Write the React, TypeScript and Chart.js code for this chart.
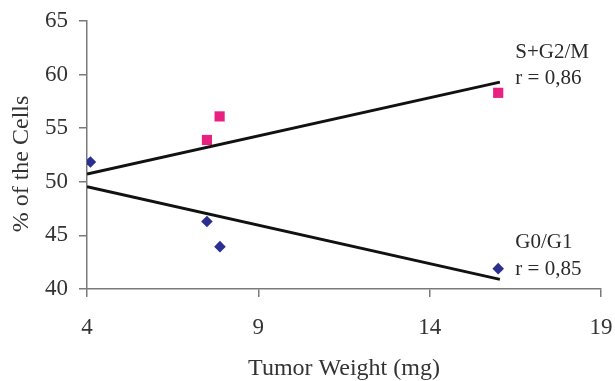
import React, { useEffect, useRef } from "react";
import { Chart, registerables } from "chart.js";

Chart.register(...registerables);

const g0g1Weights = [4.1, 7.5, 7.88, 16.0];
const g0g1Values = [51.85, 46.3, 43.95, 41.9];
const sg2mWeights = [7.5, 7.87, 16.0];
const sg2mValues = [53.9, 56.1, 58.3];
const trendX = [4.0, 16.05];
const sg2mTrend = [50.73, 59.3];
const g0g1Trend = [49.55, 40.9];
const xTicks = [4, 9, 14, 19];
const yTicks = [40, 45, 50, 55, 60, 65];
const xTitle = "Tumor Weight (mg)";
const yTitle = "% of the Cells";
const labels = [
  { text: "S+G2/M", x: 16.5, y: 62.1 },
  { text: "r = 0,86", x: 16.5, y: 59.65 },
  { text: "G0/G1", x: 16.5, y: 44.3 },
  { text: "r = 0,85", x: 16.5, y: 41.8 },
];

const FONT = "'Liberation Serif', 'Times New Roman', serif";
const TEXT = "#333333";
const AXIS = "#7a7a7a";

const annotationPlugin = {
  id: "textNotes",
  afterDatasetsDraw(chart: any) {
    const { ctx, scales, chartArea } = chart;
    ctx.save();
    ctx.font = `21px ${FONT}`;
    ctx.fillStyle = "#2a2a2a";
    ctx.textAlign = "left";
    ctx.textBaseline = "middle";
    labels.forEach((l) => {
      ctx.fillText(l.text, scales.x.getPixelForValue(l.x), scales.y.getPixelForValue(l.y));
    });
    // y axis title
    ctx.font = `24px ${FONT}`;
    ctx.fillStyle = TEXT;
    ctx.textAlign = "center";
    ctx.translate(22, (chartArea.top + chartArea.bottom) / 2 + 9);
    ctx.rotate(-Math.PI / 2);
    ctx.fillText(yTitle, 0, 0);
    ctx.restore();
  },
};

export default function App() {
  const ref = useRef<HTMLCanvasElement | null>(null);
  useEffect(() => {
    if (!ref.current) return;
    const chart = new Chart(ref.current, {
      type: "scatter",
      data: {
        datasets: [
          {
            label: "S+G2/M trend",
            type: "line",
            data: trendX.map((x, i) => ({ x, y: sg2mTrend[i] })),
            borderColor: "#111111",
            borderWidth: 3,
            pointRadius: 0,
            fill: false,
          } as any,
          {
            label: "G0/G1 trend",
            type: "line",
            data: trendX.map((x, i) => ({ x, y: g0g1Trend[i] })),
            borderColor: "#111111",
            borderWidth: 3,
            pointRadius: 0,
            fill: false,
          } as any,
          {
            label: "S+G2/M",
            data: sg2mWeights.map((x, i) => ({ x, y: sg2mValues[i] })),
            pointStyle: "rect",
            pointRadius: 7.2,
            backgroundColor: "#E8207F",
            borderColor: "#E8207F",
            borderWidth: 0,
          },
          {
            label: "G0/G1",
            data: g0g1Weights.map((x, i) => ({ x, y: g0g1Values[i] })),
            pointStyle: "rectRot",
            pointRadius: 5.8,
            backgroundColor: "#2B2F92",
            borderColor: "#2B2F92",
            borderWidth: 0,
          },
        ],
      },
      options: {
        animation: false,
        responsive: false,
        maintainAspectRatio: false,
        layout: { padding: { top: 21, right: 14, left: 0, bottom: 0 } },
        plugins: { legend: { display: false }, tooltip: { enabled: false } },
        scales: {
          x: {
            type: "linear",
            min: 4,
            max: 19,
            afterBuildTicks: (s: any) => {
              s.ticks = xTicks.map((v) => ({ value: v }));
            },
            afterFit: (s: any) => {
              s.height = 92;
              s.paddingLeft = 0;
              s.paddingRight = 0;
            },
            ticks: {
              font: { family: FONT, size: 23 },
              color: TEXT,
              padding: 17,
            },
            grid: {
              drawOnChartArea: false,
              drawTicks: true,
              tickLength: 8,
              color: AXIS,
              lineWidth: 1.5,
            },
            border: { color: AXIS, width: 1.5 },
            title: {
              display: true,
              text: xTitle,
              font: { family: FONT, size: 24, lineHeight: 1 },
              color: TEXT,
              padding: { top: 0, bottom: 0 },
            },
          },
          y: {
            type: "linear",
            min: 40,
            max: 65,
            afterBuildTicks: (s: any) => {
              s.ticks = yTicks.map((v) => ({ value: v }));
            },
            afterFit: (s: any) => {
              s.width = 87;
              s.paddingTop = 0;
              s.paddingBottom = 0;
            },
            ticks: {
              font: { family: FONT, size: 23 },
              color: TEXT,
              padding: 11,
            },
            grid: {
              drawOnChartArea: false,
              drawTicks: true,
              tickLength: 8,
              color: AXIS,
              lineWidth: 1.5,
            },
            border: { color: AXIS, width: 1.5 },
          },
        },
      },
      plugins: [annotationPlugin],
    } as any);
    return () => chart.destroy();
  }, []);
  return (
    <div style={{ position: "fixed", left: 0, top: 0, width: 615, height: 381, background: "#fff" }}>
      <canvas ref={ref} width={615} height={381} style={{ width: 615, height: 381 }} />
    </div>
  );
}
